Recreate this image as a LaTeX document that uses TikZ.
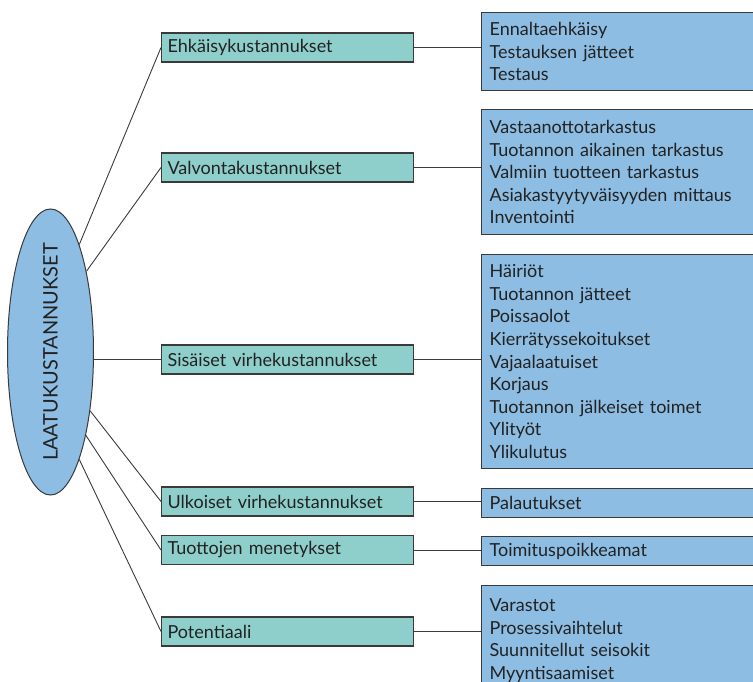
\documentclass[tikz,border=0pt]{standalone}
\usepackage{fontspec}
\setmainfont{Lato}
\usetikzlibrary{shapes.geometric}
\definecolor{tealbox}{HTML}{8FCFCB}
\definecolor{bluebox}{HTML}{8DBDE3}
\definecolor{rim}{HTML}{3A3A3A}
\definecolor{ink}{HTML}{222222}

\begin{document}
\begin{tikzpicture}[x=1pt,y=-1pt]
\tikzset{root/.style = {shape=ellipse,draw=rim,fill=bluebox,line width=1pt,minimum width=86pt,minimum height=286pt,inner sep=0pt}}
\tikzset{kind/.style = {shape=rectangle,draw=rim,fill=tealbox,line width=1.2pt,anchor=west,minimum height=29pt,text width=240pt,inner xsep=6pt,inner ysep=0pt,align=left,text=ink,font=\fontsize{18}{22.5}\selectfont}}
\tikzset{item/.style = {shape=rectangle,draw=rim,fill=bluebox,line width=1.2pt,anchor=north west,text width=290pt,inner xsep=8pt,inner ysep=0pt,align=left,text=ink,font=\fontsize{18}{22.6}\selectfont}}
\tikzset{edge/.style = {draw=rim,line width=0.9pt}}
\useasboundingbox (0,0) rectangle (753,682);
% vertices
\node[root] (laatu) at (50.5,352) {};
\node[rotate=90,text=ink,font=\fontsize{20}{24}\selectfont] (laatuteksti) at (laatu.center) {LAATUKUSTANNUKSET};
\node[kind] (ehk) at (161,47.5) {Ehkäisykustannukset};
\node[kind] (valv) at (161,167.5) {Valvontakustannukset};
\node[kind] (sis) at (161,359.5) {Sisäiset virhekustannukset};
\node[kind] (ulk) at (161,501.5) {Ulkoiset virhekustannukset};
\node[kind] (tuot) at (161,550) {Tuottojen menetykset};
\node[kind] (pot) at (161,631.5) {Potentiaali};
\node[item,minimum height=78pt] (ehkx) at (481,12) {Ennaltaehkäisy\\Testauksen jätteet\\Testaus};
\node[item,minimum height=125pt] (valvx) at (481,109) {Vastaanottotarkastus\\Tuotannon aikainen tarkastus\\Valmiin tuotteen tarkastus\\Asiakastyytyväisyyden mittaus\\Inventointi};
\node[item,minimum height=214pt] (sisx) at (481,254) {Häiriöt\\Tuotannon jätteet\\Poissaolot\\Kierrätyssekoitukset\\Vajaalaatuiset\\Korjaus\\Tuotannon jälkeiset toimet\\Ylityöt\\Ylikulutus};
\node[item,minimum height=29pt] (ulkx) at (481,488) {Palautukset};
\node[item,minimum height=29pt] (tuotx) at (481,536) {Toimituspoikkeamat};
\node[item,minimum height=110pt] (potx) at (481,585) {Varastot\\Prosessivaihtelut\\Suunnitellut seisokit\\Myyntisaamiset};
%edges
\draw[edge] (laatu.75.5) to (ehk.west);
\draw[edge] (laatu.66) to (valv.west);
\draw[edge] (laatu.east |- sis.west) to (sis.west);
\draw[edge] (laatu.-56) to (ulk.west);
\draw[edge] (laatu.-67.5) to (tuot.west);
\draw[edge] (laatu.-75.5) to (pot.west);
\draw[edge] (ehk.east) to (ehkx.west |- ehk.east);
\draw[edge] (valv.east) to (valvx.west |- valv.east);
\draw[edge] (sis.east) to (sisx.west |- sis.east);
\draw[edge] (ulk.east) to (ulkx.west |- ulk.east);
\draw[edge] (tuot.east) to (tuotx.west |- tuot.east);
\draw[edge] (pot.east) to (potx.west |- pot.east);
\end{tikzpicture}
\end{document}
